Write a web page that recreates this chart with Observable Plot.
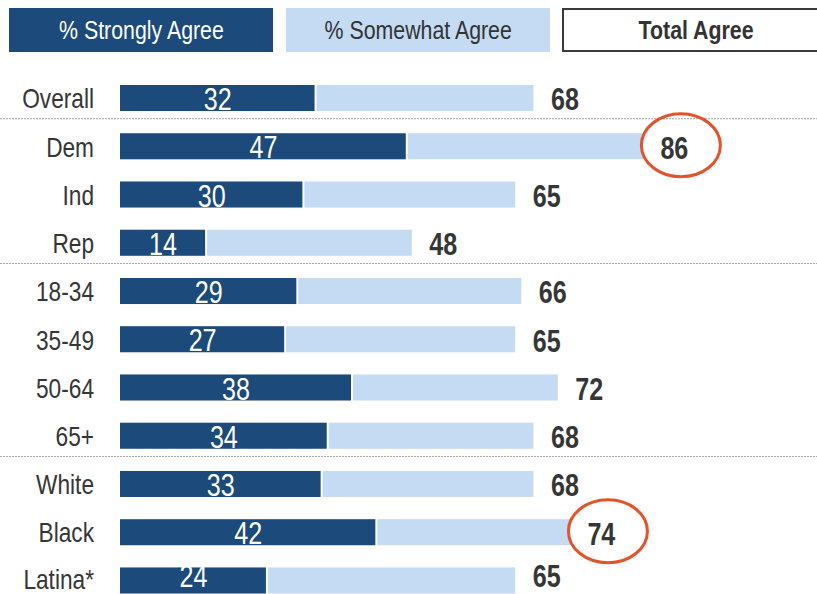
<!DOCTYPE html>
<html>
<head>
<meta charset="utf-8">
<script src="https://cdn.jsdelivr.net/npm/d3@7"></script>
<script src="https://cdn.jsdelivr.net/npm/@observablehq/plot@0.6"></script>
<style>
  html, body { margin: 0; padding: 0; background: #fff; }
  body { width: 817px; height: 594px; overflow: hidden; font-family: "Liberation Sans", Arial, sans-serif; }
  #legend { position: relative; width: 817px; height: 52px; overflow: hidden; }
  .box { position: absolute; top: 8px; height: 44px; width: 264px; box-sizing: border-box;
         display: flex; align-items: center; justify-content: center; font-size: 26px; white-space: nowrap; }
  .box span { display: inline-block; transform: scaleX(0.82); }
  #b1 { left: 9px; background: #1b4a7b; color: #fff; }
  #b2 { left: 286px; background: #c4dbf3; color: #333; }
  #b3 { left: 562px; width: 268px; background: #fff; color: #333; border: 2px solid #3a3a3a; font-weight: bold; }
  #chart svg { display: block; }
</style>
</head>
<body>
<div id="legend">
  <div class="box" id="b1"><span>% Strongly Agree</span></div>
  <div class="box" id="b2"><span>% Somewhat Agree</span></div>
  <div class="box" id="b3"><span>Total Agree</span></div>
</div>
<div id="chart"></div>
<script>
const categories = ["Overall","Dem","Ind","Rep","18-34","35-49","50-64","65+","White","Black","Latina*"];
const stronglyAgree = [32,47,30,14,29,27,38,34,33,42,24];
const totalAgree = [68,86,65,48,66,65,72,68,68,74,65];
const groupStarts = ["Dem","18-34","White"];
const highlighted = ["Dem","Black"];

const rows = categories.map((c, i) => ({cat: c, strong: stronglyAgree[i], total: totalAgree[i]}));

const DARK = "#1b4a7b", LIGHT = "#c4dbf3", TEXT = "#363636";
const FONT = '"Liberation Sans", Arial, sans-serif';
const NARROW = 0.81;

function separators(index, scales, values, dims) {
  const y = scales.y, bw = y.bandwidth ? y.bandwidth() : 0;
  const g = d3.create("svg:g");
  for (const c of groupStarts) {
    const yy = y(c) + bw / 2 - 27.5;
    g.append("line").attr("x1", 0).attr("x2", dims.width)
      .attr("y1", yy).attr("y2", yy)
      .attr("stroke", "#a8a8a8").attr("stroke-width", 1).attr("stroke-dasharray", "2,1");
  }
  return g.node();
}

function ellipses(index, scales) {
  const x = scales.x, y = scales.y, bw = y.bandwidth ? y.bandwidth() : 0;
  const g = d3.create("svg:g");
  for (const r of rows.filter(d => highlighted.includes(d.cat))) {
    g.append("ellipse")
      .attr("cx", x(r.total) + 38).attr("cy", y(r.cat) + bw / 2 - 1)
      .attr("rx", 39.5).attr("ry", 31.5)
      .attr("fill", "none").attr("stroke", "#e5532a").attr("stroke-width", 3);
  }
  return g.node();
}

const plot = Plot.plot({
  width: 817,
  height: 542,
  marginLeft: 120,
  marginRight: 89,
  marginTop: 33,
  marginBottom: 0.5,
  style: {fontFamily: FONT, background: "#fff"},
  x: {domain: [0, 100], axis: null},
  y: {domain: categories, axis: null, paddingInner: 0.46, paddingOuter: 0, round: false},
  marks: [
    separators,
    Plot.barX(rows, {y: "cat", x1: "strong", x2: "total", fill: LIGHT, insetLeft: 2}),
    Plot.barX(rows, {y: "cat", x1: 0, x2: "strong", fill: DARK}),
    Plot.text(rows, {y: "cat", x: d => d.strong / 2, text: d => String(d.strong), fill: "#fff", fontSize: 31, dy: 1.6}),
    Plot.text(rows, {y: "cat", x: 0, text: "cat", textAnchor: "end", dx: -26.5, fill: TEXT, fontSize: 28, dy: 0.8}),
    Plot.text(rows, {y: "cat", x: "total", text: d => String(d.total), textAnchor: "start", dx: 17, fill: TEXT, fontSize: 31, fontWeight: "bold", dy: 2}),
    ellipses
  ]
});

// condense the glyphs horizontally about each text's anchor (narrow face)
plot.querySelectorAll("text").forEach(t => {
  const x = +t.getAttribute("x") || 0;
  const y = +t.getAttribute("y") || 0;
  const tr = t.getAttribute("transform") || "";
  t.setAttribute("transform", `${tr} translate(${x},${y}) scale(${NARROW},1) translate(${-x},${-y})`);
});

document.getElementById("chart").appendChild(plot);

// keep every text box inside the 594px-high picture
const limit = 594;
plot.querySelectorAll("text").forEach(t => {
  const r = t.getBoundingClientRect();
  if (r.bottom > limit) {
    const d = r.bottom - limit;
    t.setAttribute("transform", `translate(0,${-d}) ` + (t.getAttribute("transform") || ""));
  }
});
</script>
</body>
</html>
